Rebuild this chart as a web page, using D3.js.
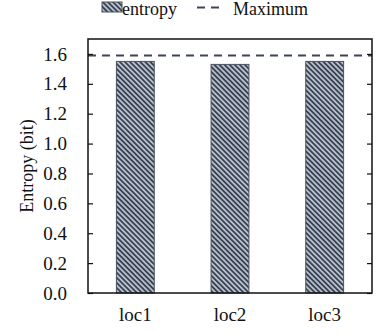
<!DOCTYPE html>
<html>
<head>
<meta charset="utf-8">
<script src="https://cdn.jsdelivr.net/npm/d3@7"></script>
<style>
  body { margin: 0; background: #fff; }
  text { font-family: "Liberation Serif", "Times New Roman", serif; fill: #111; }
</style>
</head>
<body>
<div id="vis"></div>
<script>
'use strict';

//data
var categories = ['loc1', 'loc2', 'loc3'];
var entropyValues = [1.55, 1.53, 1.55];
var maximumValue = 1.59;
var yTicks = [0, 0.2, 0.4, 0.6, 0.8, 1.0, 1.2, 1.4, 1.6];

//layout
var width = 380, height = 334;
var margin = { top: 39, right: 8, bottom: 41, left: 88 };
var dim = { w: width - margin.left - margin.right, h: height - margin.top - margin.bottom };

var x = d3.scaleBand().domain(categories).range([0, dim.w]).paddingInner(0.6).paddingOuter(0.3);
var y = d3.scaleLinear().domain([0, 1.7]).range([dim.h, 0]);

var root = d3.select('#vis').append('svg')
    .attr('width', width)
    .attr('height', height);

//hatch pattern
var pat = root.append('defs').append('pattern')
    .attr('id', 'hatch')
    .attr('patternUnits', 'userSpaceOnUse')
    .attr('width', 3.6)
    .attr('height', 3.6)
    .attr('patternTransform', 'rotate(45)');
pat.append('rect').attr('width', 3.6).attr('height', 3.6).attr('fill', '#b6bfce');
pat.append('rect').attr('width', 3.6).attr('height', 1.8).attr('fill', '#3b4350');

var svg = root.append('g')
    .attr('transform', 'translate(' + margin.left + ',' + margin.top + ')');

//bars
svg.selectAll('.bar')
    .data(categories)
    .enter()
    .append('rect')
    .attr('class', 'bar')
    .attr('x', function (d) { return x(d); })
    .attr('y', function (d, i) { return y(entropyValues[i]); })
    .attr('width', x.bandwidth())
    .attr('height', function (d, i) { return dim.h - y(entropyValues[i]); })
    .attr('fill', 'url(#hatch)')
    .attr('stroke', '#4a5260')
    .attr('stroke-width', 1);

//maximum line
svg.append('line')
    .attr('x1', 0)
    .attr('x2', dim.w)
    .attr('y1', y(maximumValue))
    .attr('y2', y(maximumValue))
    .attr('stroke', '#3d4552')
    .attr('stroke-width', 2)
    .attr('stroke-dasharray', '8,6');

//axes
var left = svg.append('g').call(d3.axisLeft(y).tickValues(yTicks).tickSizeInner(-5).tickSizeOuter(0).tickPadding(21).tickFormat(d3.format('.1f')));
var right = svg.append('g').attr('transform', 'translate(' + dim.w + ',0)')
    .call(d3.axisRight(y).tickValues(yTicks).tickSizeInner(-5).tickSizeOuter(0).tickFormat(''));
var bottom = svg.append('g').attr('transform', 'translate(0,' + dim.h + ')')
    .call(d3.axisBottom(x).tickSize(0).tickPadding(15));
[left, right, bottom].forEach(function (g) {
    g.selectAll('.domain').remove();
    g.selectAll('line').attr('stroke', '#111').attr('stroke-width', 1.2);
    g.selectAll('text').style('font-size', '19px').style('font-family', '"Liberation Serif", serif').attr('fill', '#111');
});

//frame
svg.append('rect')
    .attr('width', dim.w)
    .attr('height', dim.h)
    .attr('fill', 'none')
    .attr('stroke', '#111')
    .attr('stroke-width', 1.5);

//y label
svg.append('text')
    .attr('transform', 'rotate(-90)')
    .attr('x', -dim.h / 2)
    .attr('y', -55)
    .attr('text-anchor', 'middle')
    .style('font-size', '18px')
    .text('Entropy (bit)');

//legend
var lg = root.append('g').attr('transform', 'translate(102,0)');
lg.append('rect').attr('x', 0).attr('y', 2).attr('width', 20).attr('height', 10)
    .attr('fill', 'url(#hatch)').attr('stroke', '#4a5260').attr('stroke-width', 1);
lg.append('text').attr('x', 20).attr('y', 15).style('font-size', '18px').text('entropy');
lg.append('line').attr('x1', 95).attr('x2', 120).attr('y1', 7.5).attr('y2', 7.5)
    .attr('stroke', '#3d4552').attr('stroke-width', 2).attr('stroke-dasharray', '8,6');
lg.append('text').attr('x', 131).attr('y', 15).style('font-size', '18px').text('Maximum');
</script>
</body>
</html>
